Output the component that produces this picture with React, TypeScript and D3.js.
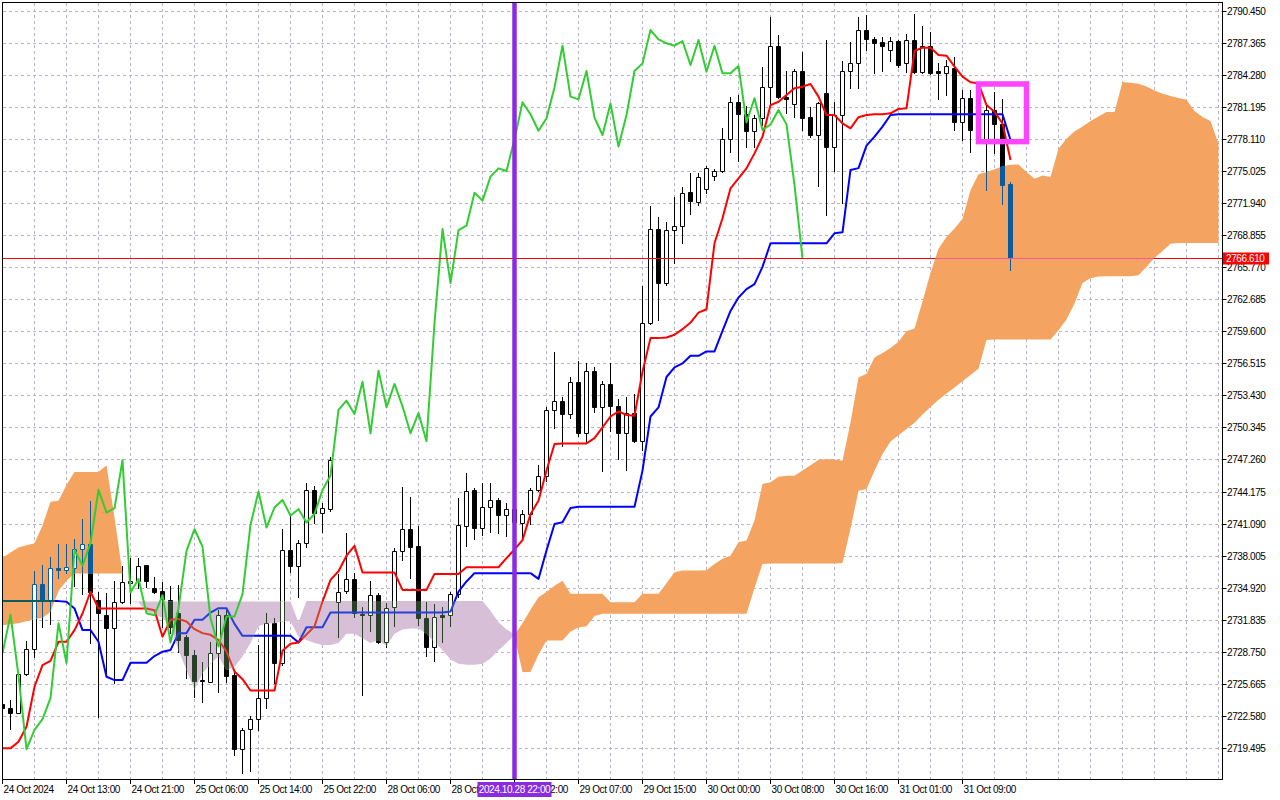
import * as d3 from 'd3'

// XAUUSD H1 with Ichimoku (9, 26, 52), bars 0..126, cloud runs 26 bars further
const open = [2723.7, 2723.34, 2722.89, 2726.57, 2728.98, 2735.27, 2733.73, 2736.77, 2736.58, 2736.77,
  2738.6, 2739.08, 2733.73, 2732.28, 2731.06, 2733.57, 2735.33, 2735.55, 2737.06, 2734.88,
  2734.59, 2733.76, 2732.47, 2730.13, 2728.46, 2726.05, 2725.89, 2728.62, 2732.31, 2726.54,
  2719.38, 2721.31, 2722.27, 2724.29, 2731.51, 2727.66, 2738.56, 2737.05, 2739.2, 2744.34,
  2742.09, 2742.52, 2733.59, 2734.56, 2735.77, 2732.37, 2732.31, 2734.2, 2729.65, 2733.05,
  2738.47, 2740.55, 2738.95, 2731.99, 2729.26, 2732.27, 2732.27, 2734.3, 2740.9, 2744.34,
  2740.71, 2742.67, 2743.37, 2741.87, 2742.48, 2741.15, 2742.02, 2744.33, 2745.71, 2752.03,
  2752.92, 2751.64, 2754.75, 2749.78, 2755.81, 2752.28, 2754.53, 2752.41, 2749.78, 2751.74,
  2749.01, 2760.39, 2769.44, 2764.24, 2769.34, 2769.76, 2772.97, 2772.07, 2773.26, 2774.58,
  2775.03, 2778.07, 2781.63, 2780.48, 2778.9, 2780.09, 2783.07, 2787.08, 2782.18, 2781.44,
  2784.65, 2780.19, 2778.49, 2782.5, 2777.37, 2780.41, 2784.65, 2785.38, 2788.59, 2787.72,
  2787.4, 2786.63, 2787.53, 2785.38, 2787.63, 2784.58, 2787.08, 2784.65, 2784.42, 2784.9,
  2779.77, 2782.02, 2778.97, 2778.01, 2780.89, 2779.51, 2773.74]
const high = [2724.0, 2724.11, 2726.67, 2729.75, 2736.52, 2737.06, 2737.9, 2739.11, 2739.11, 2739.59,
  2741.58, 2743.25, 2734.53, 2734.37, 2735.55, 2737.0, 2737.74, 2737.74, 2737.1, 2735.97,
  2735.43, 2735.1, 2735.19, 2730.4, 2728.94, 2727.75, 2729.74, 2732.79, 2732.79, 2727.02,
  2721.4, 2722.59, 2729.42, 2732.47, 2731.99, 2740.55, 2741.93, 2739.52, 2744.98, 2744.72,
  2743.05, 2747.5, 2736.25, 2740.17, 2736.32, 2733.11, 2735.58, 2734.39, 2733.43, 2738.79,
  2744.59, 2743.63, 2740.87, 2733.59, 2733.37, 2733.11, 2734.55, 2743.53, 2746.0, 2744.56,
  2744.98, 2744.98, 2743.53, 2743.05, 2743.2, 2742.4, 2744.49, 2746.73, 2752.35, 2757.64,
  2753.31, 2755.23, 2756.77, 2756.55, 2756.13, 2754.85, 2756.55, 2753.05, 2753.31, 2753.56,
  2763.92, 2771.68, 2770.56, 2770.14, 2772.49, 2773.52, 2774.8, 2774.8, 2775.51, 2775.19,
  2779.13, 2782.18, 2782.34, 2781.31, 2780.41, 2785.06, 2789.87, 2788.11, 2784.65, 2784.8,
  2786.51, 2781.21, 2781.69, 2787.63, 2781.69, 2785.61, 2787.47, 2789.87, 2790.03, 2787.95,
  2787.95, 2787.95, 2787.63, 2788.17, 2790.1, 2789.01, 2788.37, 2785.38, 2785.7, 2786.02,
  2782.82, 2782.82, 2780.5, 2781.37, 2782.59, 2781.95, 2773.93]
const low = [2723.0, 2721.35, 2722.82, 2726.51, 2728.27, 2731.12, 2731.44, 2735.81, 2736.29, 2735.11,
  2734.34, 2729.56, 2722.5, 2726.67, 2725.77, 2733.41, 2733.41, 2734.85, 2735.01, 2734.37,
  2731.12, 2730.6, 2728.78, 2726.22, 2724.36, 2723.91, 2725.83, 2724.93, 2725.83, 2718.84,
  2717.08, 2717.24, 2721.24, 2723.33, 2725.73, 2727.5, 2736.48, 2734.01, 2738.82, 2741.19,
  2740.33, 2742.3, 2730.22, 2734.39, 2732.15, 2724.61, 2730.71, 2729.58, 2729.2, 2731.19,
  2737.6, 2735.84, 2731.35, 2728.36, 2727.82, 2729.74, 2731.25, 2734.07, 2738.95, 2739.59,
  2740.01, 2740.33, 2740.17, 2739.85, 2740.5, 2739.77, 2741.06, 2744.26, 2745.23, 2750.29,
  2748.59, 2751.25, 2749.55, 2748.91, 2751.8, 2746.19, 2750.04, 2747.31, 2746.25, 2748.91,
  2748.18, 2760.3, 2760.72, 2764.08, 2766.14, 2768.12, 2770.89, 2771.75, 2772.88, 2774.2,
  2774.96, 2776.88, 2776.02, 2777.3, 2777.37, 2779.45, 2781.37, 2782.02, 2780.57, 2780.25,
  2778.97, 2778.33, 2773.58, 2770.79, 2775.06, 2771.91, 2782.98, 2782.98, 2786.67, 2784.42,
  2784.68, 2785.61, 2785.06, 2784.58, 2784.42, 2784.42, 2784.36, 2781.95, 2782.34, 2778.97,
  2778.01, 2776.88, 2777.7, 2773.2, 2776.73, 2771.82, 2765.5]
const close = [2723.3, 2722.89, 2726.57, 2728.98, 2735.27, 2733.73, 2736.77, 2736.58, 2736.87, 2738.6,
  2739.08, 2734.53, 2732.44, 2731.06, 2733.57, 2735.43, 2735.52, 2736.97, 2735.55, 2734.53,
  2733.79, 2731.16, 2729.9, 2728.4, 2725.99, 2725.95, 2728.62, 2732.31, 2726.47, 2719.38,
  2721.24, 2722.27, 2724.29, 2731.51, 2727.66, 2738.56, 2737.05, 2739.2, 2744.34, 2742.15,
  2742.57, 2747.2, 2734.46, 2735.77, 2732.47, 2732.27, 2734.2, 2729.65, 2732.95, 2738.47,
  2740.55, 2738.88, 2731.99, 2729.26, 2732.15, 2732.15, 2734.3, 2740.97, 2744.18, 2740.71,
  2742.64, 2743.37, 2741.87, 2742.48, 2741.2, 2742.02, 2744.33, 2745.71, 2752.03, 2752.92,
  2751.64, 2754.75, 2749.78, 2755.81, 2752.28, 2754.53, 2752.38, 2749.78, 2751.74, 2749.01,
  2760.39, 2769.44, 2764.24, 2769.34, 2769.76, 2772.93, 2772.17, 2774.48, 2775.28, 2775.03,
  2778.07, 2781.63, 2780.48, 2778.9, 2780.09, 2783.07, 2787.08, 2782.18, 2781.92, 2784.65,
  2780.16, 2778.49, 2781.53, 2777.37, 2780.41, 2784.65, 2785.38, 2788.59, 2787.69, 2787.31,
  2787.08, 2787.53, 2785.22, 2787.63, 2784.58, 2787.08, 2784.42, 2784.42, 2785.13, 2779.71,
  2782.02, 2778.97, 2779.5, 2780.89, 2779.51, 2773.68, 2766.61]

const tenkan = [2719.46, 2719.46, 2720.1, 2721.54, 2725.39, 2727.47, 2727.89, 2729.72, 2729.72, 2730.84,
  2732.44, 2734.53, 2732.92, 2732.92, 2732.92, 2732.92, 2732.92, 2732.92, 2732.92, 2732.76,
  2730.2, 2731.83, 2731.92, 2731.67, 2730.93, 2730.55, 2730.39, 2729.9, 2728.78, 2726.86,
  2726.12, 2725.03, 2725.03, 2725.03, 2725.03, 2728.85, 2729.52, 2729.65, 2730.42, 2731.2,
  2733.59, 2735.67, 2736.5, 2738.0, 2738.95, 2736.38, 2736.38, 2736.38, 2736.38, 2736.38,
  2734.71, 2734.71, 2734.71, 2734.71, 2736.25, 2736.25, 2736.25, 2736.25, 2736.89, 2736.89,
  2736.89, 2736.89, 2736.89, 2737.76, 2738.6, 2739.5, 2742.0, 2743.3, 2746.2, 2748.75,
  2748.81, 2748.81, 2748.81, 2748.81, 2749.32, 2750.35, 2751.4, 2751.89, 2751.54, 2751.47,
  2755.7, 2758.94, 2758.94, 2759.0, 2759.26, 2759.8, 2760.44, 2761.4, 2761.72, 2768.07,
  2770.47, 2773.36, 2774.32, 2775.28, 2776.72, 2778.33, 2781.37, 2781.69, 2782.34, 2782.98,
  2783.14, 2783.39, 2782.18, 2780.41, 2780.41, 2779.61, 2779.13, 2780.2, 2780.41, 2780.48,
  2780.48, 2780.57, 2780.99, 2781.05, 2786.57, 2786.89, 2786.89, 2786.18, 2786.12, 2785.06,
  2784.1, 2783.56, 2783.46, 2781.37, 2780.73, 2779.61, 2776.08]
const kijun = [2733.63, 2733.63, 2733.63, 2733.63, 2733.63, 2733.63, 2733.63, 2733.63, 2733.57, 2732.93,
  2730.84, 2730.84, 2729.72, 2726.35, 2726.03, 2726.03, 2727.7, 2727.7, 2727.7, 2728.34,
  2728.76, 2728.92, 2730.55, 2730.55, 2731.83, 2731.83, 2732.53, 2732.95, 2732.95, 2731.44,
  2730.29, 2730.29, 2730.29, 2730.29, 2730.29, 2730.29, 2730.29, 2729.65, 2731.12, 2731.12,
  2731.12, 2732.53, 2732.53, 2732.53, 2732.53, 2732.53, 2732.53, 2732.53, 2732.53, 2732.53,
  2732.53, 2732.53, 2732.53, 2732.53, 2732.53, 2732.53, 2732.63, 2734.55, 2735.52, 2736.32,
  2736.32, 2736.32, 2736.32, 2736.32, 2736.32, 2736.32, 2736.32, 2735.77, 2738.5, 2741.06,
  2741.22, 2742.6, 2742.72, 2742.72, 2742.72, 2742.72, 2742.72, 2742.72, 2742.72, 2742.72,
  2746.19, 2751.4, 2752.27, 2755.2, 2756.12, 2756.5, 2757.24, 2757.24, 2757.66, 2757.66,
  2759.64, 2761.56, 2762.85, 2763.65, 2764.13, 2765.8, 2768.07, 2768.07, 2768.07, 2768.07,
  2768.07, 2768.07, 2768.07, 2768.07, 2769.03, 2769.12, 2775.12, 2775.3, 2777.46, 2778.33,
  2779.29, 2780.41, 2780.48, 2780.48, 2780.48, 2780.48, 2780.48, 2780.48, 2780.48, 2780.48,
  2780.48, 2780.48, 2780.48, 2780.48, 2780.48, 2780.48, 2778.01]

// senkou span A / B, bars 0..152
const spanA = [2737.8, 2738.3, 2738.8, 2739.0, 2739.2, 2740.9, 2743.2, 2743.3, 2744.8, 2746.05,
  2746.05, 2746.05, 2746.05, 2746.7, 2741.7, 2736.3, 2733.6, 2733.5, 2732.6, 2732.4,
  2732.0, 2731.2, 2728.9, 2727.0, 2725.1, 2726.7, 2727.6, 2728.3, 2727.0, 2727.3,
  2728.3, 2729.6, 2731.2, 2731.5, 2731.5, 2731.7, 2731.7, 2730.2, 2729.9, 2729.6,
  2729.4, 2729.4, 2729.6, 2730.5, 2730.5, 2730.06, 2729.6, 2729.9, 2729.3, 2730.5,
  2730.9, 2731.0, 2731.0, 2730.5, 2729.7, 2728.9, 2728.0, 2727.6, 2727.5, 2727.5,
  2727.6, 2728.1, 2728.9, 2729.6, 2730.4, 2731.5, 2732.8, 2734.0, 2734.5, 2735.1,
  2735.6, 2734.33, 2734.33, 2734.33, 2734.33, 2734.33, 2733.53, 2733.53, 2733.53, 2733.53,
  2734.33, 2734.33, 2734.33, 2735.36, 2736.41, 2736.57, 2736.57, 2736.57, 2736.6, 2737.2,
  2737.7, 2738.0, 2739.3, 2739.46, 2741.4, 2744.9, 2745.06, 2745.6, 2745.7, 2745.7,
  2746.2, 2746.7, 2747.21, 2747.31, 2747.25, 2747.15, 2750.83, 2755.16, 2755.5, 2757.08,
  2757.5, 2758.0, 2758.6, 2759.6, 2759.87, 2762.46, 2765.2, 2767.55, 2768.68, 2769.48,
  2770.44, 2773.16, 2774.7, 2774.92, 2775.2, 2775.47, 2775.63, 2775.66, 2774.92, 2774.28,
  2774.6, 2774.44, 2777.17, 2778.13, 2778.83, 2779.31, 2779.83, 2780.27, 2780.69, 2780.69,
  2783.58, 2783.51, 2783.41, 2783.16, 2782.77, 2782.45, 2782.23, 2782.04, 2781.88, 2780.79,
  2780.21, 2779.83, 2777.65]
const spanB = [2731.3, 2731.4, 2731.5, 2731.7, 2731.9, 2732.0, 2732.6, 2734.6, 2735.6, 2736.3,
  2736.3, 2736.3, 2736.3, 2736.3, 2736.3, 2736.3, 2733.6, 2733.6, 2733.6, 2733.6,
  2733.6, 2733.6, 2733.6, 2733.6, 2733.6, 2733.6, 2733.6, 2733.6, 2733.6, 2733.6,
  2733.6, 2733.6, 2733.6, 2733.6, 2733.6, 2733.6, 2733.6, 2731.6, 2733.65, 2733.65,
  2733.65, 2733.65, 2733.65, 2733.65, 2733.65, 2733.65, 2733.65, 2733.65, 2733.65, 2733.65,
  2733.65, 2733.65, 2733.65, 2733.65, 2733.65, 2733.65, 2733.65, 2733.65, 2733.65, 2733.65,
  2733.65, 2732.7, 2731.6, 2730.9, 2730.2, 2726.8, 2726.8, 2728.5, 2729.84, 2729.84,
  2729.84, 2730.7, 2731.1, 2731.2, 2732.2, 2732.41, 2732.41, 2732.41, 2732.41, 2732.41,
  2732.41, 2732.41, 2732.41, 2732.41, 2732.41, 2732.41, 2732.41, 2732.41, 2732.41, 2732.41,
  2732.41, 2732.41, 2732.41, 2732.41, 2734.9, 2737.21, 2737.25, 2737.25, 2737.25, 2737.25,
  2737.25, 2737.25, 2737.25, 2737.25, 2737.25, 2737.3, 2740.6, 2744.26, 2744.42, 2746.18,
  2747.8, 2749.0, 2749.6, 2750.2, 2750.8, 2751.6, 2752.3, 2753.0, 2753.6, 2754.2,
  2754.8, 2755.4, 2756.0, 2758.77, 2758.8, 2758.8, 2758.8, 2758.8, 2758.8, 2758.8,
  2758.8, 2758.8, 2759.7, 2760.73, 2762.27, 2764.25, 2764.7, 2764.86, 2764.9, 2764.9,
  2764.9, 2764.9, 2765.0, 2765.8, 2766.66, 2767.33, 2768.03, 2768.1, 2768.1, 2768.1,
  2768.1, 2768.1, 2768.1]

const timeLabels = ['24 Oct 2024', '24 Oct 13:00', '24 Oct 21:00', '25 Oct 06:00', '25 Oct 14:00',
  '25 Oct 22:00', '28 Oct 06:00', '28 Oct 14:00', '28 Oct 22:00', '29 Oct 07:00', '29 Oct 15:00',
  '30 Oct 00:00', '30 Oct 08:00', '30 Oct 16:00', '31 Oct 01:00', '31 Oct 09:00']
const priceLabels = ['2790.450', '2787.365', '2784.280', '2781.195', '2778.110', '2775.025',
  '2771.940', '2768.855', '2765.770', '2762.685', '2759.600', '2756.515', '2753.430', '2750.345',
  '2747.260', '2744.175', '2741.090', '2738.005', '2734.920', '2731.835', '2728.750', '2725.665',
  '2722.580', '2719.495']

const lastPrice = 2766.61
const markerBar = 64
const markerText = '2024.10.28 22:00'
const box = { from: 122, to: 128, hi: 2783.4, lo: 2777.85 }
const shift = 26
const labelStep = 8
const gridStep = 4

const FONT = "'Liberation Sans', Arial, sans-serif"
const plot = { l: 3, t: 3, r: 1222, b: 779 }

const x = d3.scaleLinear().domain([0, spanA.length - 1]).range([2.5, 2.5 + 8 * (spanA.length - 1)])
const y = d3.scaleLinear().domain([2719.495, 2790.45]).range([748, 10.7])
const px = (v: number) => Math.round(v) + 0.5

function Candles({ ink }: { ink: string }) {
  return (
    <g>
      {close.map((c, i) => {
        const o = open[i]
        const cx = x(i)
        const top = px(y(Math.max(o, c)))
        const bot = px(y(Math.min(o, c)))
        return (
          <g key={i}>
            <line x1={cx} x2={cx} y1={Math.round(y(high[i]))} y2={Math.round(y(low[i])) + 1} stroke={ink} />
            <path d={`M${cx - 2},${top}H${cx + 2}V${bot}H${cx - 2}Z`}
              fill={c >= o ? '#ffffff' : ink} stroke={ink} />
          </g>
        )
      })}
    </g>
  )
}

function Lines({ red, blue }: { red: string; blue: string }) {
  const line = (arr: number[]) => d3.line<number>().x((_, i) => x(i)).y((v) => y(v))(arr) || ''
  return (
    <g fill="none" strokeWidth={2} strokeLinejoin="round">
      <path d={line(kijun)} stroke={blue} />
      <path d={line(tenkan)} stroke={red} />
    </g>
  )
}

export default function App() {
  const idx = d3.range(spanA.length)
  const top = (i: number) => y(Math.max(spanA[i], spanB[i]))
  const orange = d3.area<number>().x((i) => x(i)).y0((i) => y(spanB[i])).y1(top)(idx) || ''
  const thistle = d3.area<number>().x((i) => x(i)).y0((i) => y(spanA[i])).y1(top)(idx) || ''
  const chikou = d3.line<number>().x((i) => x(i - shift)).y((i) => y(close[i]))(d3.range(shift, close.length)) || ''
  const py = px(y(lastPrice))
  const mx = x(markerBar)

  return (
    <svg width={1280} height={800} style={{ position: 'absolute', left: 0, top: 0, background: '#fff' }}
      fontFamily={FONT} fontSize={10} letterSpacing={-0.4}>
      <defs>
        <clipPath id="plot"><rect x={plot.l} y={plot.t} width={plot.r - plot.l} height={plot.b - plot.t} /></clipPath>
        <clipPath id="cOrange"><path d={orange} /></clipPath>
        <clipPath id="cThistle"><path d={thistle} /></clipPath>
      </defs>
      <rect width={1280} height={800} fill="#fff" />

      <g clipPath="url(#plot)">
        {/* grid */}
        <g stroke="#b8b2c4" strokeDasharray="3 3">
          {idx.filter((i) => i % gridStep === 0).map((i) => (
            <line key={'v' + i} x1={x(i)} x2={x(i)} y1={plot.t} y2={plot.b} />
          ))}
          {priceLabels.map((p) => (
            <line key={'h' + p} x1={plot.l} x2={plot.r} y1={px(y(+p))} y2={px(y(+p))} />
          ))}
        </g>

        <Candles ink="#000" />
        <Lines red="#ff0000" blue="#0000ff" />
        <path d={orange} fill="#f4a460" />
        <path d={thistle} fill="#d8bfd8" />

        {/* what sits under the cloud shows through inverted, as in the terminal */}
        <g clipPath="url(#cOrange)">
          <Candles ink="#0b5b9f" />
          <Lines red="#f45b9f" blue="#0b5b60" />
        </g>
        <g clipPath="url(#cThistle)">
          <Candles ink="#274027" />
          <Lines red="#d84027" blue="#2740d8" />
        </g>

        <path d={chikou} fill="none" stroke="#32cd32" strokeWidth={2} strokeLinejoin="round" />

        <line x1={plot.l} x2={plot.r} y1={py} y2={py} stroke="#ff0000" />
        <g clipPath="url(#cOrange)">
          <line x1={plot.l} x2={plot.r} y1={py} y2={py} stroke="#f45b9f" />
        </g>

        <rect x={x(box.from)} y={y(box.hi)} width={x(box.to) - x(box.from)} height={y(box.lo) - y(box.hi)}
          fill="none" stroke="#ff44ff" strokeWidth={5.5} />
        <line x1={mx} x2={mx} y1={plot.t} y2={plot.b} stroke="#8a2be2" strokeWidth={4.5} />
      </g>

      {/* frame */}
      <rect x={plot.l - 0.5} y={plot.t - 0.5} width={plot.r - plot.l + 1} height={plot.b - plot.t + 1}
        fill="none" stroke="#000" />

      {/* price axis */}
      <g>
        {priceLabels.map((p) => {
          const yy = px(y(+p))
          return (
            <g key={p}>
              <line x1={plot.r + 0.5} x2={plot.r + 4.5} y1={yy} y2={yy} stroke="#000" />
              <text x={plot.r + 5} y={yy} dy="0.35em" fill="#000">{p}</text>
            </g>
          )
        })}
        <rect x={plot.r + 1} y={py - 6} width={46} height={12} fill="#ff0000" />
        <text x={plot.r + 4} y={py} dy="0.35em" fill="#fff">{lastPrice.toFixed(3)}</text>
      </g>

      {/* time axis */}
      <g>
        {timeLabels.map((t, k) => {
          const xx = x(k * labelStep)
          return (
            <g key={t}>
              <line x1={xx} x2={xx} y1={plot.b + 0.5} y2={plot.b + 5} stroke="#000" />
              <text x={xx + 1} y={793} fill="#000">{t}</text>
            </g>
          )
        })}
        <rect x={mx - 37} y={782} width={74} height={15} fill="#8a2be2" />
        <text x={mx} y={793} textAnchor="middle" fill="#fff">{markerText}</text>
      </g>
    </svg>
  )
}
